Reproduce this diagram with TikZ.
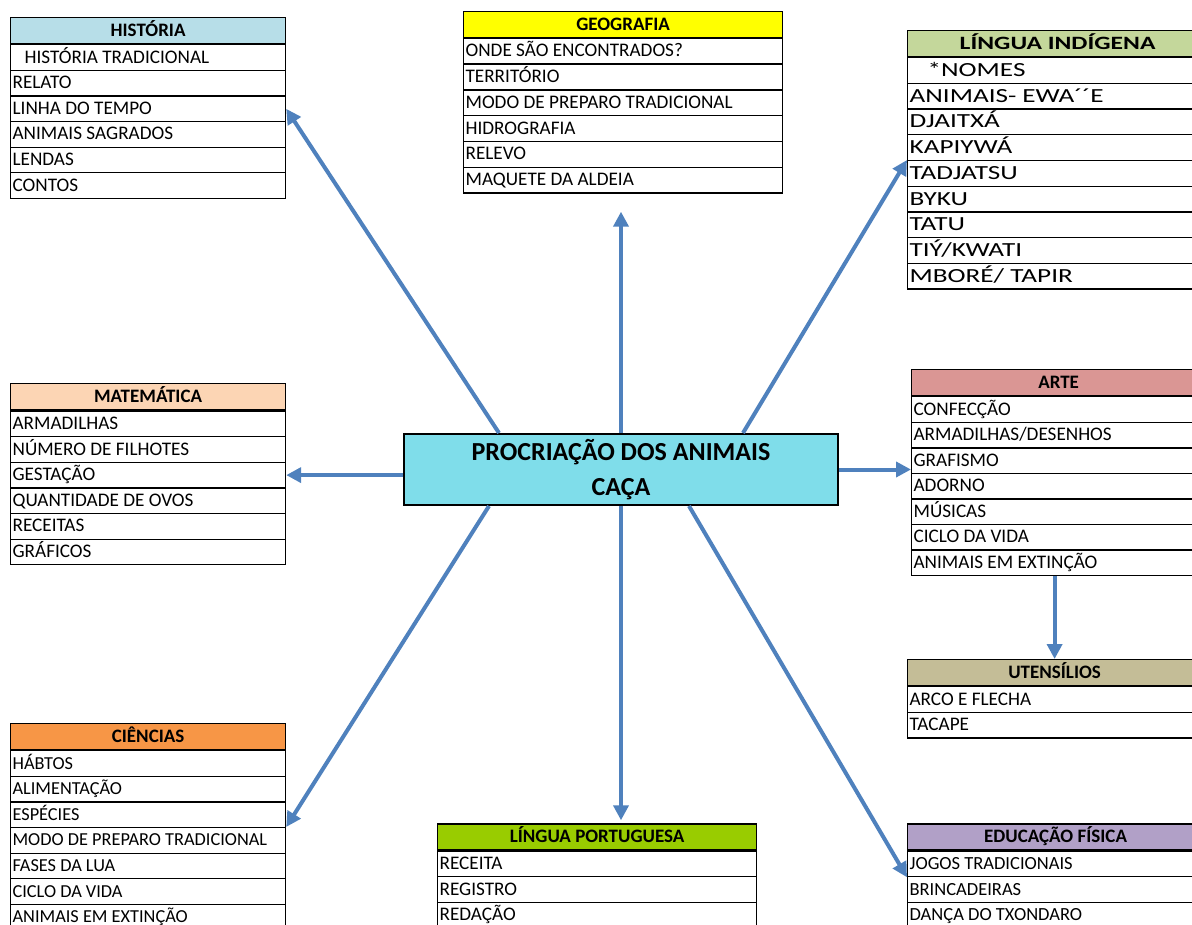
\documentclass[tikz,border=0pt]{standalone}
\usepackage{fontspec}
\setmainfont{Carlito}
\newfontfamily\widefont[FakeStretch=1.36]{Carlito}
\usetikzlibrary{positioning,arrows.meta}

\definecolor{histblue}{HTML}{B7DEE8}
\definecolor{geoyellow}{HTML}{FFFF00}
\definecolor{lingreen}{HTML}{C4D79B}
\definecolor{artred}{HTML}{DA9694}
\definecolor{utekhaki}{HTML}{C4BD97}
\definecolor{matpeach}{HTML}{FCD5B4}
\definecolor{cieorange}{HTML}{F79646}
\definecolor{porgreen}{HTML}{99CC00}
\definecolor{edulilac}{HTML}{B1A0C7}
\definecolor{ctrcyan}{HTML}{7FDDEA}
\definecolor{arrowblue}{HTML}{4F81BD}

\begin{document}
\begin{tikzpicture}[x=1pt,y=-1pt,
  head/.style={draw,line width=1.2pt,anchor=north west,minimum width=#1,
    minimum height=26pt,inner xsep=0pt,inner ysep=0pt,text height=14pt,text depth=2pt,
    font=\fontsize{19}{21}\selectfont\bfseries},
  cell/.style={draw,line width=1.2pt,anchor=north west,text width=#1,align=left,
    minimum height=25.6pt,inner xsep=2pt,inner ysep=0pt,text height=13pt,text depth=2pt,
    font=\fontsize{19.2}{21}\selectfont},
  link/.style={line width=4pt,draw=arrowblue,-{Triangle[width=15pt,length=15pt]}}]
\useasboundingbox (0,0) rectangle (1192,925);
\clip (0,0) rectangle (1192,925);

% centre
\node[draw,line width=2pt,fill=ctrcyan,minimum width=434pt,minimum height=71pt,align=center,
  font=\fontsize{26}{35}\selectfont\bfseries] (ctr) at (621,469.5) {PROCRIAÇÃO DOS ANIMAIS\\CAÇA};

% left column
\node[head=275pt,fill=histblue] (his) at (10,17) {HISTÓRIA};
\foreach \t [count=\i] in {\hspace*{12pt}HISTÓRIA TRADICIONAL,RELATO,LINHA DO TEMPO,ANIMAIS SAGRADOS,LENDAS,CONTOS}
  \node[cell=271pt] (his\i) at ([yshift={-(\i-1)*25.6pt}]his.south west) {\spaceskip=0pt\relax\t};

\node[head=275pt,fill=matpeach] (mat) at (10,383.3) {MATEMÁTICA};
\foreach \t [count=\i] in {ARMADILHAS,NÚMERO DE FILHOTES,GESTAÇÃO,QUANTIDADE DE OVOS,RECEITAS,GRÁFICOS}
  \node[cell=271pt] (mat\i) at ([yshift={-(\i-1)*25.6pt}]mat.south west) {\spaceskip=0pt\relax\t};

\node[head=275pt,fill=cieorange] (cie) at (10,723) {CIÊNCIAS};
\foreach \t [count=\i] in {HÁBTOS,ALIMENTAÇÃO,ESPÉCIES,MODO DE PREPARO TRADICIONAL,FASES DA LUA,CICLO DA VIDA,ANIMAIS EM EXTINÇÃO}
  \node[cell=271pt,font=\fontsize{18.3}{21}\selectfont] (cie\i) at ([yshift={-(\i-1)*25.6pt}]cie.south west) {\spaceskip=0pt\relax\t};

% middle column
\node[head=319pt,fill=geoyellow] (geo) at (463,10.7) {GEOGRAFIA};
\foreach \t [count=\i] in {ONDE SÃO ENCONTRADOS?,TERRITÓRIO,MODO DE PREPARO TRADICIONAL,HIDROGRAFIA,RELEVO,MAQUETE DA ALDEIA}
  \node[cell=315pt] (geo\i) at ([yshift={-(\i-1)*25.8pt}]geo.south west) {\spaceskip=0pt\relax\t};

\node[head=319pt,fill=porgreen] (por) at (437,823.3) {LÍNGUA PORTUGUESA};
\foreach \t [count=\i] in {RECEITA,REGISTRO,REDAÇÃO}
  \node[cell=315pt] (por\i) at ([yshift={-(\i-1)*25.6pt}]por.south west) {\spaceskip=0pt\relax\t};

% right column
\node[head=300pt,fill=lingreen,font=\widefont\fontsize{18.8}{21}\selectfont\bfseries] (lin) at (907,30) {LÍNGUA INDÍGENA};
\foreach \t [count=\i] in {\hspace*{18pt}*NOMES,ANIMAIS- EWA´´E,DJAITXÁ,KAPIYWÁ,TADJATSU,BYKU,TATU,TIÝ/KWATI,MBORÉ/ TAPIR}
  \node[cell=296pt,text height=14.5pt,text depth=2.5pt,font=\widefont\fontsize{20}{24}\selectfont]
    (lin\i) at ([yshift={-(\i-1)*25.7pt}]lin.south west) {\spaceskip=0pt\relax\t};

\node[head=294pt,fill=artred] (art) at (911,369) {ARTE};
\foreach \t [count=\i] in {CONFECÇÃO,ARMADILHAS/DESENHOS,GRAFISMO,ADORNO,MÚSICAS,CICLO DA VIDA,ANIMAIS EM EXTINÇÃO}
  \node[cell=290pt] (art\i) at ([yshift={-(\i-1)*25.5pt}]art.south west) {\spaceskip=0pt\relax\t};

\node[head=294pt,fill=utekhaki] (ute) at (907,659) {UTENSÍLIOS};
\foreach \t [count=\i] in {ARCO E FLECHA,TACAPE}
  \node[cell=290pt] (ute\i) at ([yshift={-(\i-1)*25.5pt}]ute.south west) {\spaceskip=0pt\relax\t};

\node[head=296pt,fill=edulilac] (edu) at (907,823.3) {EDUCAÇÃO FÍSICA};
\foreach \t [count=\i] in {JOGOS TRADICIONAIS,BRINCADEIRAS,DANÇA DO TXONDARO}
  \node[cell=292pt,font=\fontsize{18.5}{21}\selectfont] (edu\i) at ([yshift={-(\i-1)*25.6pt}]edu.south west) {\spaceskip=0pt\relax\t};

% arrows
\draw[link] ([xshift=96pt]ctr.north west) -- (his3.east);
\draw[link] (ctr.north) -- ([yshift=-18pt]ctr.north |- geo6.south);
\draw[link] ([xshift=-96pt]ctr.north east) -- (lin5.north west);
\draw[link] (ctr.west |- mat3.east) -- (mat3.east);
\draw[link] (ctr.east) -- (ctr.east -| art3.west);
\draw[link] ([xshift=86pt]ctr.south west) -- (cie4.north east);
\draw[link] (ctr.south) -- ([yshift=3pt]ctr.south |- por.north);
\draw[link] ([xshift=-150pt]ctr.south east) -- (edu1.south west);
\draw[link] (ute.north |- art7.south) -- (ute.north);
\end{tikzpicture}
\end{document}
